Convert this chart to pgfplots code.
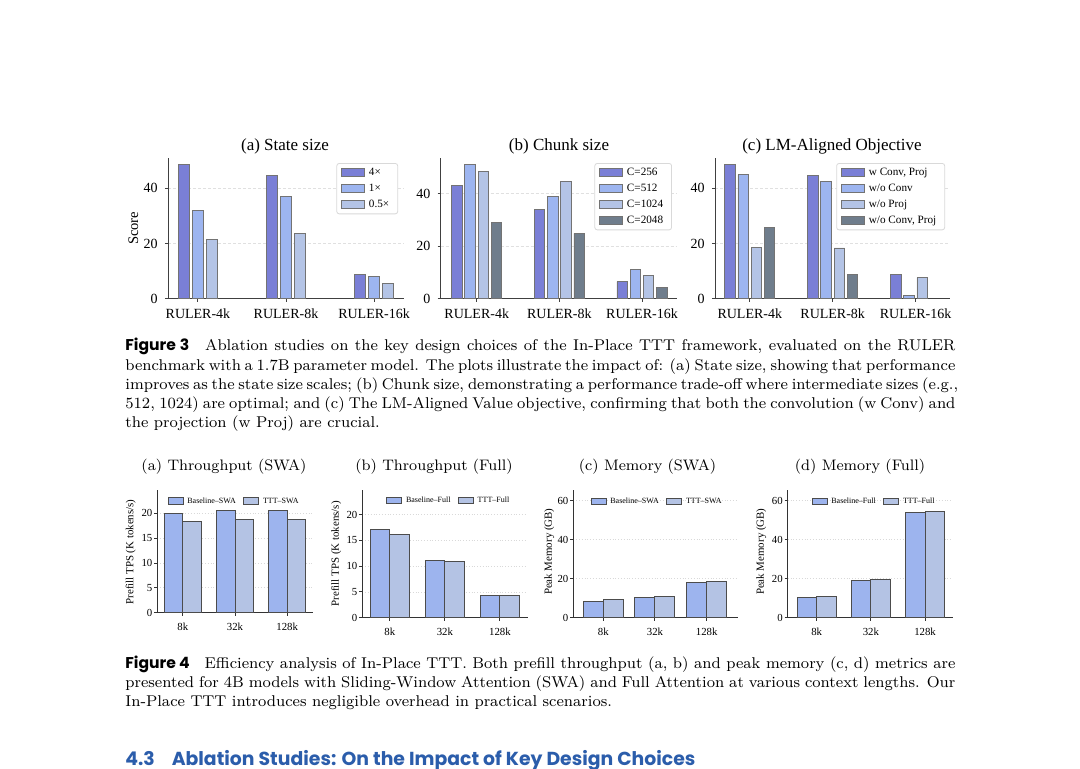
\documentclass[border=0pt]{standalone}
\usepackage{fontspec}
\usepackage{graphicx}
\usepackage{pgfplots}
\pgfplotsset{compat=1.18}
\newfontfamily\tnr{Liberation Serif}
\newfontfamily\pop{Poppins}
\definecolor{cA}{HTML}{7A7FD6}
\definecolor{cB}{HTML}{9DB5F0}
\definecolor{cC}{HTML}{B4C4E6}
\definecolor{cD}{HTML}{6F7D8C}
\definecolor{bl}{HTML}{9DB4EE}
\definecolor{tt}{HTML}{B4C3E4}
\definecolor{head}{HTML}{2B5DAB}
\pgfplotsset{
  f3/.style={
    ybar legend/.style={/pgfplots/legend image code/.code={\draw[####1,sharp corners] (0pt,-1.9pt) rectangle (11.5pt,1.9pt);}},
    scale only axis, height=70.35pt, ybar=1.5pt, bar width=5.5pt,
    axis x line*=bottom, axis y line*=left,
    axis line style={draw=black!75, line width=0.5pt},
    tick style={draw=black!75, line width=0.5pt},
    tick align=outside, major tick length=1.6pt,
    ymin=0, xtick={0,1,2}, xticklabels={RULER-4k,RULER-8k,RULER-16k},
    ytick={0,20,40},
    ymajorgrids, grid style={dash pattern=on 1.5pt off 1pt, draw=black!12, line width=0.35pt},
    ticklabel style={font=\tnr\fontsize{7}{8}\selectfont},
    /pgf/number format/assume math mode=true,
    every axis plot/.append style={draw=black!55, line width=0.4pt},
    legend cell align=left,
    legend style={draw=black!15, rounded corners=1.2pt, line width=0.4pt,
      font=\tnr\fontsize{5.6}{6.4}\selectfont, anchor=north east,
      inner xsep=2.2pt, inner ysep=1.5pt, row sep=1.8pt,
      nodes={inner xsep=2pt, inner ysep=0.5pt, text height=4pt, text depth=1.2pt}},
    every axis y label/.style={at={(axis description cs:-0.147,0.5)}, rotate=90, anchor=center, font=\tnr\fontsize{7.3}{8}\selectfont},
  },
  f4/.style={
    ybar legend/.style={/pgfplots/legend image code/.code={\draw[####1,sharp corners] (0pt,-1.6pt) rectangle (7.5pt,1.6pt);}},
    scale only axis, ybar=0pt,
    axis x line*=bottom, axis y line*=left,
    axis line style={draw=black!80, line width=0.5pt},
    tick style={draw=black!80, line width=0.5pt},
    tick align=outside, major tick length=1.5pt,
    ymin=0, xtick={0,1,2}, xticklabels={8k,32k,128k},
    ymajorgrids, grid style={densely dotted, draw=black!15, line width=0.4pt},
    ticklabel style={font=\tnr\fontsize{5.4}{6.2}\selectfont},
    yticklabel style={inner xsep=0.8pt},
    /pgf/number format/assume math mode=true,
    every axis plot/.append style={draw=black!70, line width=0.5pt},
    legend columns=2,
    legend style={draw=none, fill=none, anchor=center,
      font=\tnr\fontsize{4}{4.6}\selectfont,
      nodes={inner xsep=1.8pt, inner ysep=0.5pt, text height=3pt, text depth=0.9pt},
      /tikz/every even column/.append style={column sep=2pt}},
    every axis y label/.style={rotate=90, anchor=center, font=\tnr\fontsize{5.45}{6}\selectfont},
  },
}
\begin{document}
\begin{tikzpicture}
\fill[white] (0,0) rectangle (540pt,-384.5pt);
\path[use as bounding box] (0,0) rectangle (540pt,-384.5pt);

% ---------- Figure 3 ----------
\node[anchor=base, font=\tnr\fontsize{8.5}{10}\selectfont] at (142.5pt,-75.5pt) {(a) State size};
\node[anchor=base, font=\tnr\fontsize{8.5}{10}\selectfont] at (279.5pt,-75.5pt) {(b) Chunk size};
\node[anchor=base, font=\tnr\fontsize{8.5}{10}\selectfont] at (416pt,-75.5pt) {(c) LM-Aligned Objective};

\begin{axis}[f3, at={(84pt,-149.35pt)}, anchor=south west, width=118pt,
  xmin=-0.34, xmax=2.34, ymax=51, ylabel={Score},
  legend style={at={(0.975,0.964)}}]
\addplot[fill=cA] coordinates {(0,48.8) (1,44.8) (2,8.9)};
\addplot[fill=cB] coordinates {(0,32.0) (1,36.9) (2,8.1)};
\addplot[fill=cC] coordinates {(0,21.5) (1,23.7) (2,5.6)};
\legend{4×,1×,0.5×}
\end{axis}

\begin{axis}[f3, at={(220.35pt,-149.35pt)}, anchor=south west, width=118pt,
  bar width=5.25pt, ybar=1.35pt,
  xmin=-0.436, xmax=2.42, ymax=53.6,
  legend style={at={(0.98,0.964)}}]
\addplot[fill=cA] coordinates {(0,43.0) (1,34.0) (2,6.5)};
\addplot[fill=cB] coordinates {(0,51.2) (1,39.0) (2,11.2)};
\addplot[fill=cC] coordinates {(0,48.5) (1,44.7) (2,9.0)};
\addplot[fill=cD] coordinates {(0,29.1) (1,24.9) (2,4.3)};
\legend{C=256,C=512,C=1024,C=2048}
\end{axis}

\begin{axis}[f3, at={(357.5pt,-149.35pt)}, anchor=south west, width=117.5pt,
  bar width=5.25pt, ybar=1.35pt,
  xmin=-0.42, xmax=2.415, ymax=51,
  legend style={at={(0.979,0.964)}}]
\addplot[fill=cA] coordinates {(0,48.7) (1,44.8) (2,8.9)};
\addplot[fill=cB] coordinates {(0,45.0) (1,42.5) (2,1.1)};
\addplot[fill=cC] coordinates {(0,18.6) (1,18.4) (2,7.6)};
\addplot[fill=cD] coordinates {(0,25.9) (1,8.7)};
\legend{{w Conv, Proj},{w/o Conv},{w/o Proj},{w/o Conv, Proj}}
\end{axis}

% caption figure 3
\begin{scope}[every node/.style={anchor=base west, inner sep=0pt, font=\fontsize{7.8}{9.6}\selectfont}]
\node at (62.5pt,-175.5pt) {\makebox[415pt][s]{{\pop\bfseries Figure 3}\hspace{0.6em} Ablation studies on the key design choices of the In-Place TTT framework, evaluated on the RULER}};
\node at (62.5pt,-185.1pt) {\makebox[415pt][s]{benchmark with a 1.7B parameter model. The plots illustrate the impact of: (a) State size, showing that performance}};
\node at (62.5pt,-194.7pt) {\makebox[415pt][s]{improves as the state size scales; (b) Chunk size, demonstrating a performance trade-off where intermediate sizes (e.g.,}};
\node at (62.5pt,-204.3pt) {\makebox[415pt][s]{512, 1024) are optimal; and (c) The LM-Aligned Value objective, confirming that both the convolution (w Conv) and}};
\node at (62.5pt,-213.9pt) {the projection (w Proj) are crucial.};
\end{scope}

% ---------- Figure 4 ----------
\node[anchor=base, font=\fontsize{7.6}{9}\selectfont] at (112pt,-235.5pt) {(a) Throughput (SWA)};
\node[anchor=base, font=\fontsize{7.6}{9}\selectfont] at (217pt,-235.5pt) {(b) Throughput (Full)};
\node[anchor=base, font=\fontsize{7.6}{9}\selectfont] at (323.75pt,-235.5pt) {(c) Memory (SWA)};
\node[anchor=base, font=\fontsize{7.6}{9}\selectfont] at (430pt,-235.5pt) {(d) Memory (Full)};

\begin{axis}[f4, at={(78.65pt,-306.35pt)}, anchor=south west, width=77.7pt, height=61.35pt,
  bar width=9.35pt, xmin=-0.49, xmax=2.49, ymax=24.7, ytick={0,5,10,15,20},
  ylabel={Prefill TPS (K tokens/s)}, ylabel style={at={(axis description cs:-0.172,0.495)}},
  legend style={at={(0.5,0.91)}}]
\addplot[fill=bl] coordinates {(0,20.0) (1,20.6) (2,20.6)};
\addplot[fill=tt] coordinates {(0,18.3) (1,18.8) (2,18.8)};
\legend{Baseline–SWA,TTT–SWA}
\end{axis}

\begin{axis}[f4, at={(181.15pt,-308.85pt)}, anchor=south west, width=82.6pt, height=63.85pt,
  bar width=9.85pt, xmin=-0.5, xmax=2.5, ymax=24.8, ytick={0,5,10,15,20},
  ylabel={Prefill TPS (K tokens/s)}, ylabel style={at={(axis description cs:-0.158,0.5)}},
  legend style={at={(0.529,0.92)}}]
\addplot[fill=bl] coordinates {(0,17.2) (1,11.2) (2,4.4)};
\addplot[fill=tt] coordinates {(0,16.2) (1,10.9) (2,4.4)};
\legend{Baseline–Full,TTT–Full}
\end{axis}

\begin{axis}[f4, at={(286.65pt,-308.85pt)}, anchor=south west, width=82.2pt, height=63.85pt,
  bar width=10pt, xmin=-0.58, xmax=2.6, ymax=65.5, ytick={0,20,40,60},
  ylabel={Peak Memory (GB)}, ylabel style={at={(axis description cs:-0.146,0.517)}},
  legend style={at={(0.515,0.908)}}]
\addplot[fill=bl] coordinates {(0,8.4) (1,10.3) (2,18.1)};
\addplot[fill=tt] coordinates {(0,9.2) (1,11.1) (2,18.8)};
\legend{Baseline–SWA,TTT–SWA}
\end{axis}

\begin{axis}[f4, at={(393.85pt,-308.85pt)}, anchor=south west, width=82.5pt, height=63.85pt,
  bar width=9.75pt, xmin=-0.535, xmax=2.51, ymax=65.5, ytick={0,20,40,60},
  ylabel={Peak Memory (GB)}, ylabel style={at={(axis description cs:-0.16,0.517)}},
  legend style={at={(0.529,0.908)}}]
\addplot[fill=bl] coordinates {(0,10.3) (1,19.1) (2,54.0)};
\addplot[fill=tt] coordinates {(0,11.1) (1,19.8) (2,54.5)};
\legend{Baseline–Full,TTT–Full}
\end{axis}

% caption figure 4
\begin{scope}[every node/.style={anchor=base west, inner sep=0pt, font=\fontsize{7.8}{9.6}\selectfont}]
\node at (62.5pt,-334pt) {\makebox[415pt][s]{{\pop\bfseries Figure 4}\hspace{0.6em} Efficiency analysis of In-Place TTT. Both prefill throughput (a, b) and peak memory (c, d) metrics are}};
\node at (62.5pt,-343.6pt) {\makebox[415pt][s]{presented for 4B models with Sliding-Window Attention (SWA) and Full Attention at various context lengths. Our}};
\node at (62.5pt,-353.2pt) {In-Place TTT introduces negligible overhead in practical scenarios.};
\end{scope}

% section heading
\node[anchor=base west, inner sep=0pt, text=head] at (62.5pt,-382.5pt)
  {\resizebox{285pt}{!}{\pop\bfseries 4.3\hspace{0.9em}Ablation Studies: On the Impact of Key Design Choices}};
\end{tikzpicture}
\end{document}
